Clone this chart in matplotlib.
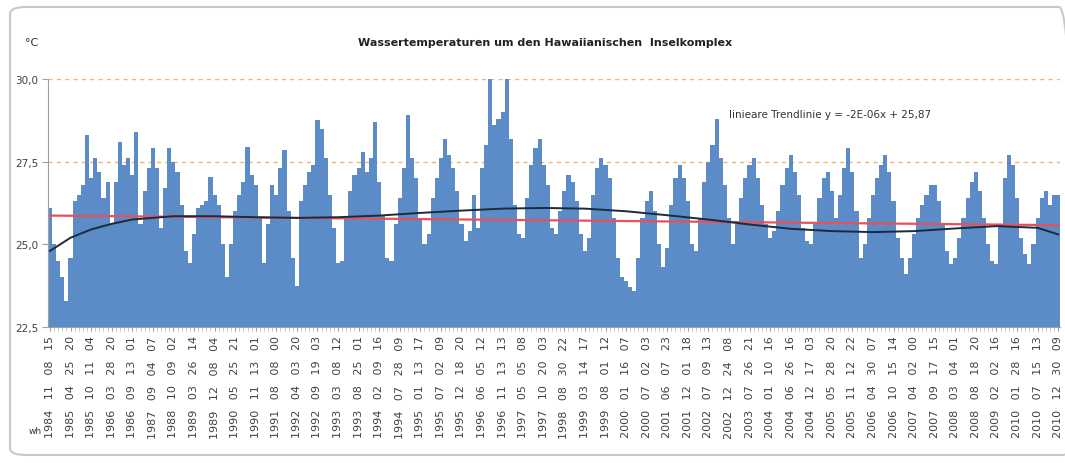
import matplotlib.pyplot as plt
import numpy as np
from matplotlib.patches import FancyBboxPatch

# date labels shown on the category axis (every 5th reading)
labels = ['1984 11 08 15', '1985 04 25 20', '1985 10 11 04', '1986 03 28 20', '1986 09 13 01',
          '1987 09 04 07', '1988 10 09 02', '1989 03 26 14', '1989 12 08 04', '1990 05 25 21',
          '1990 11 13 01', '1991 08 08 00', '1992 04 03 20', '1992 09 19 03', '1993 03 08 12',
          '1993 08 25 01', '1994 02 09 16', '1994 07 28 09', '1995 01 13 17', '1995 07 02 09',
          '1995 12 18 20', '1996 06 05 12', '1996 11 13 13', '1997 05 05 08', '1997 10 20 03',
          '1998 08 30 22', '1999 03 14 17', '1999 08 01 12', '2000 01 16 07', '2000 07 02 03',
          '2001 06 07 23', '2001 12 01 18', '2002 07 09 13', '2002 12 24 08', '2003 07 26 21',
          '2004 01 10 16', '2004 06 26 16', '2004 12 17 03', '2005 05 28 20', '2005 11 12 22',
          '2006 04 30 07', '2006 10 15 14', '2007 04 02 00', '2007 09 17 15', '2008 03 04 01',
          '2008 08 18 20', '2009 02 02 16', '2010 01 28 16', '2010 07 15 13', '2010 12 30 09']

# water temperature readings (degC), 5 per label interval
temps = [26.1, 25.0, 24.5, 24.0, 23.3,
         24.6, 26.3, 26.5, 26.8, 28.3,
         27.0, 27.6, 27.2, 26.4, 26.9,
         25.6, 26.9, 28.1, 27.4, 27.6,
         27.1, 28.4, 25.6, 26.6, 27.3,
         27.9, 27.3, 25.5, 26.7, 27.9,
         27.5, 27.2, 26.2, 24.8, 24.45,
         25.3, 26.1, 26.2, 26.3, 27.05,
         26.5, 26.2, 25.0, 24.0, 25.0,
         26.0, 26.5, 26.9, 27.95, 27.1,
         26.8, 25.8, 24.45, 25.6, 26.8,
         26.5, 27.3, 27.85, 26.0, 24.6,
         23.75, 26.3, 26.8, 27.2, 27.4,
         28.75, 28.5, 27.6, 26.5, 25.5,
         24.45, 24.5, 25.8, 26.6, 27.1,
         27.3, 27.8, 27.2, 27.6, 28.7,
         26.9, 25.9, 24.6, 24.5, 25.6,
         26.4, 27.3, 28.9, 27.6, 27.0,
         25.8, 25.0, 25.3, 26.4, 27.0,
         27.6, 28.2, 27.7, 27.3, 26.6,
         25.6, 25.1, 25.4, 26.5, 25.5,
         27.3, 28.0, 30.0, 28.6, 28.8,
         29.0, 30.0, 28.2, 26.2, 25.3,
         25.2, 26.4, 27.4, 27.9, 28.2,
         27.4, 26.8, 25.5, 25.3, 26.0,
         26.6, 27.1, 26.9, 26.3, 25.3,
         24.8, 25.2, 26.5, 27.3, 27.6,
         27.4, 27.0, 25.8, 24.6, 24.0,
         23.9, 23.7, 23.6, 24.6, 25.8,
         26.3, 26.6, 26.0, 25.0, 24.3,
         24.9, 26.2, 27.0, 27.4, 27.0,
         26.3, 25.0, 24.8, 25.8, 26.9,
         27.5, 28.0, 28.8, 27.6, 26.8,
         25.8, 25.0, 25.6, 26.4, 27.0,
         27.4, 27.6, 27.0, 26.2, 25.6,
         25.2, 25.4, 26.0, 26.8, 27.3,
         27.7, 27.2, 26.5, 25.5, 25.1,
         25.0, 25.6, 26.4, 27.0, 27.2,
         26.6, 25.8, 26.5, 27.3, 27.9,
         27.2, 26.0, 24.6, 25.0, 25.8,
         26.5, 27.0, 27.4, 27.7, 27.2,
         26.3, 25.2, 24.6, 24.1, 24.6,
         25.3, 25.8, 26.2, 26.5, 26.8,
         26.8, 26.3, 25.6, 24.8, 24.4,
         24.6, 25.2, 25.8, 26.4, 26.9,
         27.2, 26.6, 25.8, 25.0, 24.5,
         24.4, 25.6, 27.0, 27.7, 27.4,
         26.4, 25.2, 24.7, 24.4, 25.0,
         25.8, 26.4, 26.6, 26.2, 26.5,
         26.5]

# polynomial trend line, read at label positions
poly_at = [0, 1, 2, 3, 4, 6, 8, 10, 12, 14, 16, 18, 20, 22, 24, 26, 28, 30, 32, 34,
           36, 38, 40, 42, 44, 46, 48, 49]
poly_vals = [24.8, 25.2, 25.45, 25.62, 25.75, 25.85, 25.85, 25.82, 25.8, 25.82, 25.87, 25.95,
             26.02, 26.08, 26.1, 26.08, 26.0, 25.88, 25.75, 25.6, 25.47, 25.4, 25.37, 25.4,
             25.48, 25.55, 25.5, 25.3]

# linear trend line  y = -2E-06x + 25,87
lin_start, lin_end = 25.87, 25.58

step = 5
x = np.arange(len(temps))

fig = plt.figure(figsize=(10.65, 4.64), dpi=100)
fig.patches.append(FancyBboxPatch((10 / 1065, 8 / 464), 1065 / 1065, 448 / 464,
                                  boxstyle='round,pad=0,rounding_size=0.015',
                                  transform=fig.transFigure, facecolor='none',
                                  edgecolor='#c8c8c8', linewidth=1.5))

ax = fig.add_axes([0.045, 0.2931, 0.9505, 0.5345])
ax.set_facecolor('none')

for g in [27.5, 30.0]:
    ax.axhline(g, color='#f6b46e', linestyle=(0, (3, 3)), linewidth=1.0, zorder=1)

ax.bar(x, temps, width=1.0, color='#5b8cc8', linewidth=0, zorder=2)

ax.plot([x[0], x[-1]], [lin_start, lin_end], color='#e8505a', linewidth=1.6, zorder=3)
ax.plot(np.array(poly_at) * step, poly_vals, color='#1c2a3a', linewidth=1.4, zorder=4)

ax.set_xlim(-0.5, len(temps) - 0.5)
ax.set_ylim(22.5, 30.0)

ax.set_yticks([22.5, 25.0, 27.5, 30.0])
ax.set_yticklabels(['22,5', '25,0', '27,5', '30,0'])
ax.set_xticks(x[::step])
ax.set_xticklabels([s.replace(' ', '   ') for s in labels], rotation=90)
ax.set_xticks(x, minor=True)

ax.tick_params(axis='x', which='major', length=3, color='#a0a0a0', labelsize=8,
               labelcolor='#404040', pad=3)
ax.tick_params(axis='x', which='minor', length=3, color='#c0c0c0', width=0.6)
ax.tick_params(axis='y', length=4, color='#a0a0a0', labelsize=7.5, labelcolor='#404040', pad=3)

for s in ['top', 'right']:
    ax.spines[s].set_visible(False)
ax.spines['left'].set_color('#a0a0a0')
ax.spines['bottom'].set_color('#a0a0a0')

fig.text(545 / 1065, 1 - 43 / 464, 'Wassertemperaturen um den Hawaiianischen  Inselkomplex',
         ha='center', va='center', fontsize=8, fontweight='bold', color='#222222')
fig.text(32 / 1065, 1 - 43 / 464, '°C', ha='center', va='center', fontsize=8, color='#333333')
fig.text(35 / 1065, 1 - 432 / 464, 'wh', ha='center', va='center', fontsize=6.5, color='#333333')
fig.text(729 / 1065, 1 - 115 / 464, 'linieare Trendlinie y = -2E-06x + 25,87',
         ha='left', va='center', fontsize=7.5, color='#333333')

fig.savefig('out.png', dpi=100)
